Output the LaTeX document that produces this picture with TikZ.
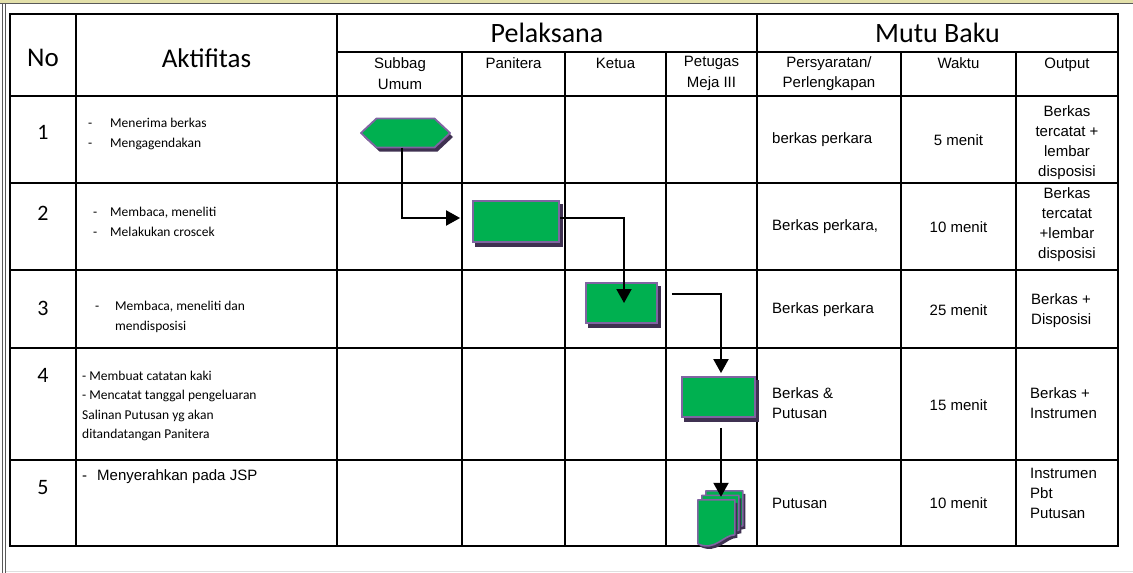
\documentclass[tikz,border=0pt]{standalone}
\usepackage{fontspec}
\setmainfont{Liberation Sans}
\newfontfamily\calib{Carlito}
\usetikzlibrary{arrows.meta,shadows,calc}
\definecolor{flowgreen}{HTML}{00B050}
\definecolor{flowpurple}{HTML}{8064A2}
\definecolor{flowshadow}{HTML}{3F3151}
\begin{document}
\begin{tikzpicture}[x=1pt,y=-1pt,
  tabline/.style={line width=2.2pt, line cap=rect},
  bighead/.style={font=\calib\fontsize{27}{30}\selectfont, inner sep=0},
  rownum/.style={font=\calib\fontsize{22}{26}\selectfont, inner sep=0},
  subhead/.style={font=\fontsize{15}{20.5}\selectfont, align=center, inner sep=0},
  valtext/.style={font=\fontsize{15}{20}\selectfont, inner sep=0},
  acttext/.style={font=\calib\fontsize{13.5}{19.5}\selectfont, align=left, anchor=west, inner sep=0},
  procbox/.style={rectangle, fill=flowgreen, draw=flowpurple, line width=1.8pt, inner sep=0,
    copy shadow={shadow xshift=3pt, shadow yshift=-4pt, fill=flowshadow, draw=flowshadow}},
  flowarrow/.style={line width=2pt, -{Triangle[length=14pt,width=15pt]}},
  pagefill/.style={fill=flowgreen, draw=flowpurple, line width=1.6pt, line join=round},
]
\useasboundingbox (0,0) rectangle (1133,573);
% outer frame
\fill[olive!25] (0,0) rectangle (1133,2.5);
\draw[gray!70!black, line width=1.2pt] (0,3.5) -- (1133,3.5);
\draw[gray!70!black, line width=1pt] (2.5,3.5) -- (2.5,573);
\draw[gray!70!black, line width=1pt] (5.5,3.5) -- (5.5,573);
\draw[gray!25, line width=1.5pt] (6,571.5) -- (1133,571.5);
% table
\foreach \y in {14,96,183,270,348,460,546} \draw[tabline] (10,\y) -- (1118,\y);
\draw[tabline] (337,52) -- (1118,52);
\foreach \x in {10,76,337,757,1118} \draw[tabline] (\x,14) -- (\x,546);
\foreach \x in {462,565,666,901,1016} \draw[tabline] (\x,52) -- (\x,546);
% headers
\node[bighead] (hno) at (43,58) {No};
\node[bighead] (hakt) at (206.5,58) {Aktifitas};
\node[bighead, font=\calib\fontsize{28}{30}\selectfont] (hpel) at (547,33) {Pelaksana};
\node[bighead, font=\calib\fontsize{28}{30}\selectfont] (hmutu) at (937.5,33) {Mutu Baku};
\node[subhead] (s1) at (400,73.5) {Subbag\\Umum};
\node[subhead] (s2) at (513.5,63) {Panitera};
\node[subhead] (s3) at (615.5,63) {Ketua};
\node[subhead] (s4) at (711.5,73.5) {Petugas\\Meja III};
\node[subhead] (s5) at (829,73.5) {Persyaratan/\\Perlengkapan};
\node[subhead] (s6) at (958.5,63) {Waktu};
\node[subhead] (s7) at (1067,65) {Output};
% row numbers
\node[rownum] (n1) at (43,132) {1};
\node[rownum] (n2) at (43,213) {2};
\node[rownum] (n3) at (43,308) {3};
\node[rownum] (n4) at (43,375) {4};
\node[rownum] (n5) at (43,488) {5};
% activities
\node[acttext] (a1) at (88,134) {\makebox[22pt][l]{-}Menerima berkas\\\makebox[22pt][l]{-}Mengagendakan};
\node[acttext] (a2) at (93,222) {\makebox[17pt][l]{-}Membaca, meneliti\\\makebox[17pt][l]{-}Melakukan croscek};
\node[acttext] (a3) at (95,317) {\makebox[20pt][l]{-}Membaca, meneliti dan\\\hspace*{20pt}mendisposisi};
\node[acttext] (a4) at (82,406) {- Membuat catatan kaki\\- Mencatat tanggal pengeluaran\\Salinan Putusan yg akan\\ditandatangan Panitera};
\node[acttext, font=\fontsize{15}{20}\selectfont] (a5) at (82,477) {\makebox[15pt][l]{-}Menyerahkan pada JSP};
% persyaratan
\node[valtext, anchor=west] (p1) at (772,140) {berkas perkara};
\node[valtext, anchor=west] (p2) at (772,227) {Berkas perkara,};
\node[valtext, anchor=west] (p3) at (772,310) {Berkas perkara};
\node[valtext, anchor=west, align=left] (p4) at (772,403) {Berkas \&\\Putusan};
\node[valtext, anchor=west] (p5) at (772,503) {Putusan};
% waktu
\node[valtext] (w1) at (958.5,140) {5 menit};
\node[valtext] (w2) at (958.5,227) {10 menit};
\node[valtext] (w3) at (958.5,310) {25 menit};
\node[valtext] (w4) at (958.5,405) {15 menit};
\node[valtext] (w5) at (958.5,503) {10 menit};
% output
\node[valtext, align=center] (o1) at (1067,142.5) {Berkas\\tercatat +\\lembar\\disposisi};
\node[valtext, align=center] (o2) at (1067,224.5) {Berkas\\tercatat\\+lembar\\disposisi};
\node[valtext, anchor=west, align=left] (o3) at (1031,311) {Berkas +\\Disposisi};
\node[valtext, anchor=west, align=left] (o4) at (1030,403) {Berkas +\\Instrumen};
\node[valtext, anchor=west, align=left] (o5) at (1030,493) {Instrumen\\Pbt\\Putusan};
% hexagon
\node[minimum width=89pt, minimum height=29pt, inner sep=0] (hex) at (405.5,133) {};
\fill[flowshadow, shift={(hex.center)}, xshift=3pt, yshift=-4pt]
  (-44.5,0) -- (-29,-14.5) -- (29,-14.5) -- (44.5,0) -- (29,14.5) -- (-29,14.5) -- cycle;
\filldraw[fill=flowgreen, draw=flowpurple, line width=1.8pt, line join=round, shift={(hex.center)}]
  (-44.5,0) -- (-29,-14.5) -- (29,-14.5) -- (44.5,0) -- (29,14.5) -- (-29,14.5) -- cycle;
% process boxes
\node[procbox, minimum width=86pt, minimum height=41pt] (r2) at (516,221.5) {};
\node[procbox, minimum width=71pt, minimum height=40pt] (r3) at (621.5,303) {};
\node[procbox, minimum width=73pt, minimum height=40pt] (r4) at (718.5,397) {};
% multi-document
\node[minimum width=37pt, minimum height=47pt, inner sep=0] (doc) at (716.5,523.5) {};
\foreach \dx/\dy in {8/-9, 4/-4.5, 0/0} {
  \fill[flowshadow, shift={($(doc.north west)+(\dx+2.5,\dy+3)$)}]
    (0,0) -- (37,0) -- (37,35) .. controls (26,35) and (17,52) .. (0,44) -- cycle;
  \filldraw[pagefill, shift={($(doc.north west)+(\dx,\dy)$)}]
    (0,0) -- (37,0) -- (37,35) .. controls (26,35) and (17,52) .. (0,44) -- cycle;
}
% connectors
\coordinate (c3) at ($(r3.east)+(14,-9)$);
\coordinate (c4) at ($(r4.south)+(2.5,10)$);
\draw[flowarrow] ($(hex.south)+(-3.5,0)$) |- ($(r2.west)+(-12,-3.5)$);
\draw[flowarrow] ($(r2.east)+(0,-3.5)$) -| ($(r3.center)+(2.5,0)$);
\draw[flowarrow] (c3) -| ($(r4.north)+(2.5,-3)$);
\draw[flowarrow] (c4) -- ($(doc.north)+(4.5,-3)$);
\end{tikzpicture}
\end{document}
